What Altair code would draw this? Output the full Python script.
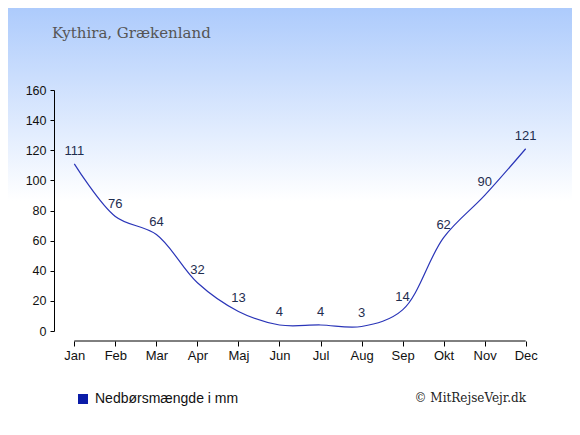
import altair as alt
import pandas as pd

months = ["Jan", "Feb", "Mar", "Apr", "Maj", "Jun", "Jul", "Aug", "Sep", "Okt", "Nov", "Dec"]
precip = [111, 76, 64, 32, 13, 4, 4, 3, 14, 62, 90, 121]
series_name = "Nedbørsmængde i mm"
y_ticks = [0, 20, 40, 60, 80, 100, 120, 140, 160]
title_text = "Kythira, Grækenland"
credit_text = "© MitRejseVejr.dk"

df = pd.DataFrame({"month": months, "value": precip, "series": [series_name] * len(months)})
one = pd.DataFrame({"k": [0]})
axis_df = pd.DataFrame({"month": [months[0]], "month_end": [months[-1]]})

W, H = 492, 241

xscale = alt.Scale(type="point", domain=months, padding=0.495)
yscale = alt.Scale(domain=[0, 160])

x_axis = alt.Axis(title=None, domain=False, offset=10, tickSize=5, tickColor="#000",
                  labelAngle=0, labelAlign="center", labelBaseline="top",
                  labelFont="Liberation Sans", labelFontSize=13,
                  labelColor="#111", labelPadding=3, labelOverlap=False,
                  labelFlush=False, grid=False, zindex=2)
y_axis = alt.Axis(title=None, values=y_ticks, tickCount=9, tickSize=4, tickColor="#000",
                  domainColor="#000", labelFont="Liberation Sans", labelFontSize=12.5,
                  labelAlign="right", labelBaseline="middle",
                  labelColor="#111", labelPadding=4, labelOverlap=False,
                  labelFlush=False, grid=False, zindex=2)

bg = alt.Chart(one).mark_rect(
    fill=alt.Gradient(
        gradient="linear",
        stops=[alt.GradientStop(color="#adcbfc", offset=0),
               alt.GradientStop(color="#ffffff", offset=0.46),
               alt.GradientStop(color="#ffffff", offset=1)],
        x1=0, x2=0, y1=0, y2=1,
    )
).encode(
    x=alt.value(-46), x2=alt.value(W + 26),
    y=alt.value(-82), y2=alt.value(H + 96),
)

line = alt.Chart(df).mark_line(interpolate="catmull-rom", strokeWidth=1.2).encode(
    x=alt.X("month:N", scale=xscale, axis=x_axis),
    y=alt.Y("value:Q", scale=yscale, axis=y_axis),
    color=alt.Color("series:N", scale=alt.Scale(range=["#2a35b8"]),
                    legend=alt.Legend(title=None, orient="none", legendX=22, legendY=302,
                                      symbolType="square", symbolFillColor="#0b1ca8",
                                      symbolStrokeColor="#0b1ca8", symbolStrokeWidth=0,
                                      symbolSize=100, padding=0, labelOffset=5,
                                      labelFont="Liberation Sans", labelFontSize=14,
                                      labelColor="#111", zindex=2)),
)

labels = alt.Chart(df).mark_text(
    dy=-13, baseline="middle", align="center",
    font="Liberation Sans", fontSize=13, color="#1f2d4f",
).encode(
    x=alt.X("month:N", scale=xscale, axis=x_axis),
    y=alt.Y("value:Q", scale=yscale, axis=y_axis),
    text="value:Q",
)

xaxis_line = alt.Chart(axis_df).mark_rule(color="#000", strokeWidth=1).encode(
    x=alt.X("month:N", scale=xscale, axis=x_axis),
    x2="month_end:N",
    y=alt.value(H + 10),
)

title = alt.Chart(one).mark_text(
    text=title_text, align="left", baseline="alphabetic",
    font="DejaVu Serif", fontSize=15, color="#555555",
).encode(x=alt.value(-2), y=alt.value(-52))

credit = alt.Chart(one).mark_text(
    text=credit_text, align="right", baseline="alphabetic",
    font="DejaVu Serif", fontSize=12, color="#222222",
).encode(x=alt.value(472), y=alt.value(312))

chart = alt.layer(bg, xaxis_line, line, labels, title, credit).properties(
    width=W, height=H,
    autosize=alt.AutoSizeParams(type="none"),
    padding={"left": 46, "top": 82, "right": 26, "bottom": 96},
    background="#ffffff",
).configure_view(strokeOpacity=0)

chart.save("out.html", embed_options={"renderer": "svg", "actions": False})
